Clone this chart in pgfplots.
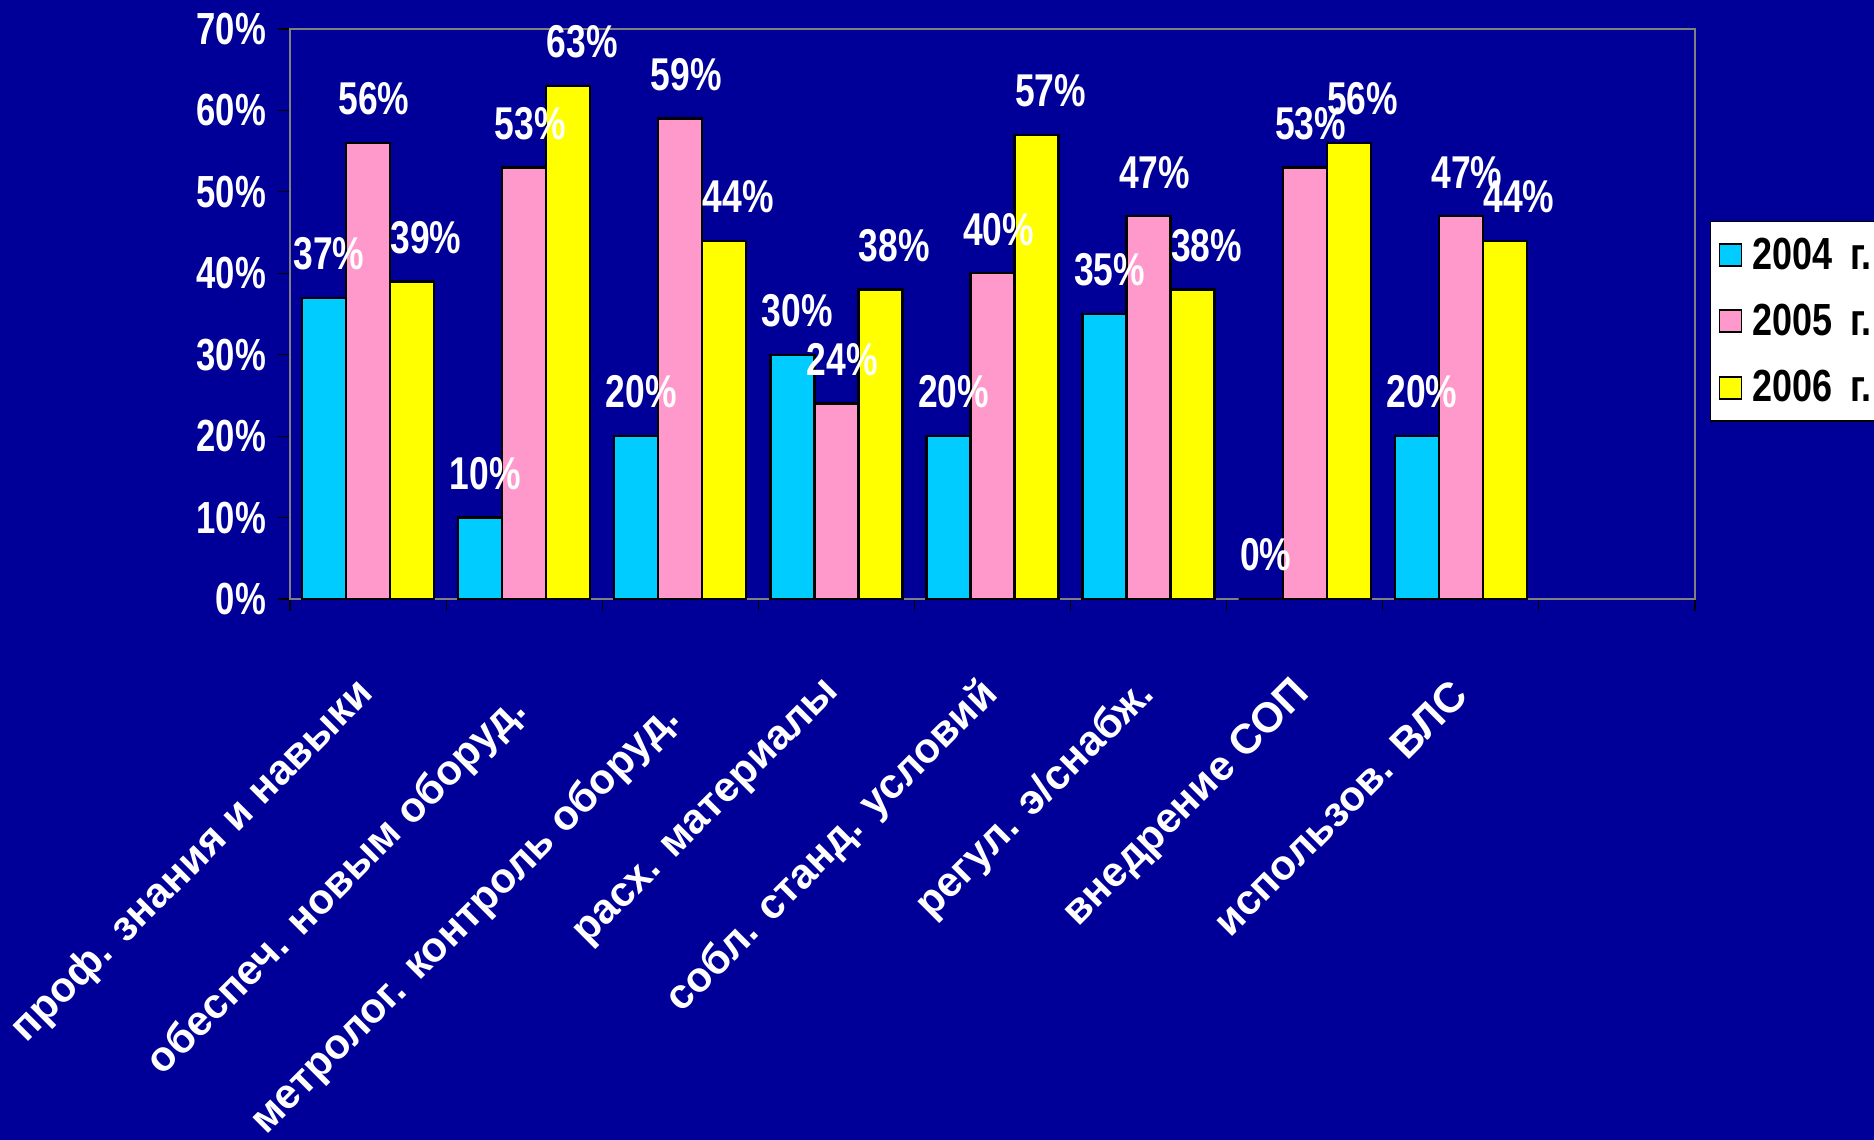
\documentclass[border=0pt]{standalone}
\usepackage{fontspec}
\setmainfont{Liberation Sans}
\newfontfamily\condfont{Liberation Sans}[FakeStretch=0.77]
\newfontfamily\legfont{Liberation Sans}[FakeStretch=0.8]
\usepackage{pgfplots}
\pgfplotsset{compat=1.18}
\definecolor{bg}{HTML}{000099}
\definecolor{c04}{HTML}{00CCFF}
\definecolor{c05}{HTML}{FF99CC}
\definecolor{c06}{HTML}{FFFF00}
\definecolor{framegray}{HTML}{808080}
\pgfplotsset{sqlegend/.style={legend image code/.code={\draw[##1,draw=black,line width=0.9pt] (0pt,-5.5pt) rectangle (11pt,5.5pt);}}}
\newcommand{\lowlab}[3]{\raisebox{-#1}[\height][\depth]{#3\hspace*{#2}}}
\begin{document}
\begin{tikzpicture}
\fill[bg] (-145pt,-270.5pt) rectangle (792pt,299.5pt);
\begin{axis}[
  at={(0pt,0pt)}, anchor=south west,
  scale only axis, width=702.5pt, height=285pt,
  xmin=-0.5, xmax=8.5, ymin=0, ymax=70,
  ybar=0pt, bar width=22pt,
  axis line style={framegray, line width=1.3pt},
  /pgf/number format/assume math mode=true,
  ytick={0,10,...,70},
  yticklabel={\pgfmathprintnumber{\tick}\%},
  xtick={-0.5,0.5,...,8.5},
  x tick label as interval,
  xticklabels={проф. знания и навыки, \lowlab{4.5pt}{7pt}{обеспеч. новым оборуд.}, \lowlab{6.5pt}{11pt}{метролог. контроль оборуд.}, расх. материалы, собл. станд. условий, регул. э/снабж., внедрение СОП, использов. ВЛС, {}},
  xtick pos=bottom, ytick pos=left,
  tick align=outside, major tick length=6pt,
  tick style={black, line width=0.6pt},
  yticklabel style={font=\condfont\bfseries\fontsize{22.5}{24}\selectfont, text=white, xshift=-2.5pt},
  xticklabel style={font=\bfseries\fontsize{21}{24}\selectfont, text=white, xshift=2pt, yshift=-36pt, rotate=45, anchor=east},
  nodes near coords={\pgfmathprintnumber{\pgfplotspointmeta}\%},
  nodes near coords style={font=\condfont\bfseries\fontsize{23}{26}\selectfont, text=white, anchor=center, yshift=22pt},
  legend style={at={(1.0107,0.663)}, anchor=north west, fill=white, draw=black, line width=0.6pt,
    font=\legfont\bfseries\fontsize{22.5}{26}\selectfont, text=black, row sep=12pt, inner xsep=4pt, inner ysep=6pt,
    nodes={inner xsep=5pt}},
  legend cell align=left,
]
\addplot[fill=c04, draw=black, line width=1.2pt, sqlegend, every node near coord/.append style={xshift=2.5pt}]
  coordinates {(0,37) (1,10) (2,20) (3,30) (4,20) (5,35) (6,0) (7,20)};
\addplot[fill=c05, draw=black, line width=1.2pt, sqlegend, every node near coord/.append style={xshift=3pt}]
  coordinates {(0,56) (1,53) (2,59) (3,24) (4,40) (5,47) (6,53) (7,47)};
\addplot[fill=c06, draw=black, line width=1.2pt, sqlegend, every node near coord/.append style={xshift=7pt}]
  coordinates {(0,39) (1,63) (2,44) (3,38) (4,57) (5,38) (6,56) (7,44)};
\legend{2004\hspace{4pt} г., 2005\hspace{4pt} г., 2006\hspace{4pt} г.}
\end{axis}
\pgfresetboundingbox
\useasboundingbox (-145pt,-270.5pt) rectangle (792pt,299.5pt);
\end{tikzpicture}
\end{document}
